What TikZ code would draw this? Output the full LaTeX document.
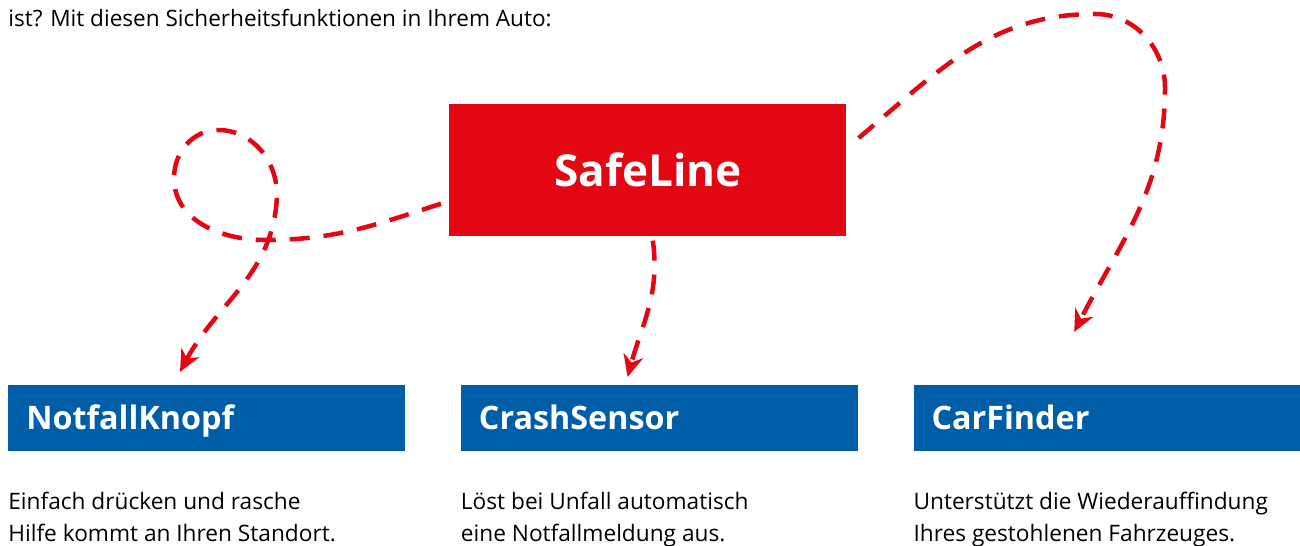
\documentclass[tikz,border=0pt]{standalone}
\usepackage{fontspec}
\setmainfont{Open Sans}
\usetikzlibrary{calc,
arrows.meta,
positioning}
\definecolor{safered}{RGB}{227,6,19}
\definecolor{safeblue}{RGB}{0,94,168}

\begin{document}
\begin{tikzpicture} [x=0.02cm, y=0.02cm,
    link/.style={draw=safered, line width=0.09cm,
        dash pattern=on 0.4cm off 0.28cm,
        -{Stealth[length=0.44cm, width=0.4cm, inset=0.14cm]}},
    head node/.style={rectangle, fill=safeblue, text=white,
        anchor=north west, minimum height=1.32cm, text width=7.22cm,
        inner xsep=0.36cm, align=left,
        text height=13.2pt, text depth=0pt,
        font=\fontsize{18.4}{22}\selectfont\bfseries},
    desc node/.style={inner sep=0pt, align=left,
        font=\fontsize{12.9}{18.1}\selectfont}
  ]
  \useasboundingbox (0,0) rectangle (1300,-546);

  \node [anchor=base west, inner sep=0pt,
    font=\fontsize{12.85}{15}\selectfont
  ] (intro) at (8,-27) {ist? Mit diesen Sicherheitsfunktionen in Ihrem Auto:};

  \node [rectangle,
    fill=safered,
    text=white,
    anchor=north west,
    minimum width=7.94cm,
    minimum height=2.64cm,
    font=\fontsize{25.1}{30}\selectfont\bfseries
  ] (safe) at (449,-104) {SafeLine};

  \node [head node] (notfall) at (8,-385) {NotfallKnopf};
  \node [head node, right = 1.1cm of notfall] (crash) {CrashSensor};
  \node [head node, text width=7.04cm,
    right = 1.1cm of crash
  ] (finder) {CarFinder};

  \node [desc node, below = 0.8cm of notfall.south west,
    anchor=north west] (notfalltxt) {Einfach drücken und rasche\\Hilfe kommt an Ihren Standort.};
  \node [desc node, below = 0.8cm of crash.south west,
    anchor=north west] (crashtxt) {Löst bei Unfall automatisch\\eine Notfallmeldung aus.};
  \node [desc node, below = 0.8cm of finder.south west,
    anchor=north west] (findertxt) {Unterstützt die Wiederauffindung\\Ihres gestohlenen Fahrzeuges.};

  % loop to the button
  \draw [link] ($(safe.south west)+(-8,33)$) to[out=198, in=0] (265,-240)
  to[out=180, in=270] (174,-178) to[out=90, in=180] (218,-130)
  to[out=0, in=90] (277,-195) to[out=268, in=62] ($(notfall.north west)+(172,13)$);

  \draw [link] ($(safe.south)+(5,-4)$) to[out=-82, in=75] ($(crash.north west)+(167,8)$);

  \draw [link] ($(safe.north east)+(12,-34)$) to[out=40, in=180] (1095,-14)
  to[out=0, in=90] (1165,-88) to[out=-90, in=63] ($(finder.north west)+(161,53)$);

\end{tikzpicture}
\end{document}
